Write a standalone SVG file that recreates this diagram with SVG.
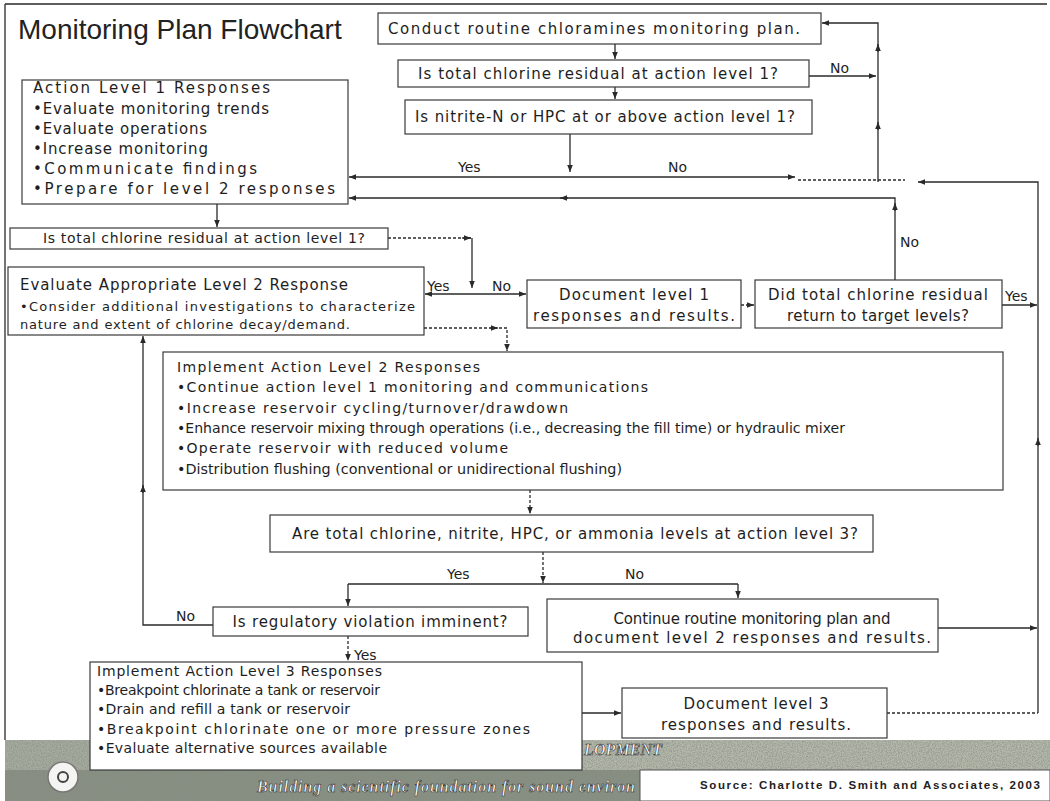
<svg xmlns="http://www.w3.org/2000/svg" width="1050" height="801" viewBox="0 0 1050 801">
<style>
.bx{fill:#fff;stroke:#3a3a3a;stroke-width:1.2}
.t{font-family:"DejaVu Sans",Verdana,sans-serif;fill:#1e1e1e;font-size:15px}
.s14{font-size:14px}
.s13{font-size:13px}
.m{text-anchor:middle}
.c{fill:none;stroke:#2a2a2a;stroke-width:1.3}
.d{stroke-dasharray:3 2}
.lb{font-family:"DejaVu Sans",Verdana,sans-serif;fill:#1e1e1e;font-size:14px}
.ban{font-family:"Liberation Serif","Times New Roman",serif;font-weight:bold;font-style:italic;fill:#fff;stroke:#333;stroke-width:0.6}
</style>
<defs>
<marker id="a" viewBox="0 0 10 10" refX="10" refY="5" markerWidth="7" markerHeight="7" markerUnits="userSpaceOnUse" orient="auto"><path d="M0,1 L10,5 L0,9 z" fill="#2a2a2a"/></marker>
<filter id="nz" x="0" y="0" width="100%" height="100%"><feTurbulence type="fractalNoise" baseFrequency="0.8" numOctaves="2" seed="4"/><feColorMatrix type="matrix" values="0 0 0 0 0.25 0 0 0 0 0.27 0 0 0 0 0.24 1.6 0 0 0 -0.55"/></filter>
</defs>
<rect width="1050" height="801" fill="#fff"/>
<g id="frame" class="c"><path d="M5,4 H1047 M5,4 V740"/></g>
<g id="banner">
<rect x="5" y="740" width="85" height="61" fill="#a6ac9e"/>
<rect x="582" y="740" width="468" height="30" fill="#b4b9ab"/>
<rect x="5" y="770" width="635" height="31" fill="#868e80"/>
<rect x="5" y="740" width="85" height="61" filter="url(#nz)"/>
<rect x="582" y="740" width="468" height="30" filter="url(#nz)"/>
<rect x="5" y="770" width="635" height="31" filter="url(#nz)"/>
<rect x="640" y="770" width="410" height="31" fill="#fff" stroke="#555" stroke-width="1"/>
<circle cx="63" cy="777" r="15" fill="#f4f4f2" stroke="#777" stroke-width="1.5"/>
<circle cx="63" cy="777" r="5" fill="none" stroke="#444" stroke-width="2"/>
<text class="ban" x="584" y="755" font-size="16" textLength="78">LOPMENT</text>
<text class="ban" x="257" y="792" font-size="16" textLength="378">Building a scientific foundation for sound environ</text>
<text x="700" y="789" font-family="Liberation Sans,Arial,sans-serif" font-size="11.5" font-weight="bold" fill="#222" textLength="340">Source: Charlotte D. Smith and Associates, 2003</text>
</g>
<text id="title" x="18" y="39" font-family="Liberation Sans,Arial,sans-serif" font-size="28" fill="#222">Monitoring Plan Flowchart</text>
<g id="connectors">
<path class="c" d="M615,44 V59" marker-end="url(#a)"/>
<path class="c" d="M615,87 V99" marker-end="url(#a)"/>
<path class="c" d="M809,76 H876" marker-end="url(#a)"/>
<path class="c" d="M878,182 V23 H822" marker-end="url(#a)"/>
<path class="c" d="M878,52 V44" marker-end="url(#a)"/>
<path class="c" d="M878,130 V122" marker-end="url(#a)"/>
<path class="c" d="M570,134 V172" marker-end="url(#a)"/>
<path class="c" d="M570,177 H349" marker-end="url(#a)"/>
<path class="c" d="M570,177 H795" marker-end="url(#a)"/>
<path class="c d" d="M798,180 H905"/>
<path class="c d" d="M887,713 H1038"/>
<path class="c" d="M1038,713 V182 H918" marker-end="url(#a)"/>
<path class="c" d="M1038,446 V438" marker-end="url(#a)"/>
<path class="c" d="M895,280 V198 H349" marker-end="url(#a)"/>
<path class="c" d="M568,198 H560" marker-end="url(#a)"/>
<path class="c" d="M895,211 V203" marker-end="url(#a)"/>
<path class="c" d="M217,204 V227" marker-end="url(#a)"/>
<path class="c d" d="M388,238 H472"/>
<path class="c" d="M462,238 H471" marker-end="url(#a)"/>
<path class="c" d="M472,238 V288" marker-end="url(#a)"/>
<path class="c" d="M472,294 H425" marker-end="url(#a)"/>
<path class="c" d="M472,294 H526" marker-end="url(#a)"/>
<path class="c d" d="M741,305 H754" marker-end="url(#a)"/>
<path class="c" d="M1002,305 H1037" marker-end="url(#a)"/>
<path class="c d" d="M424,328 H507 V351" marker-end="url(#a)"/>
<path class="c" d="M490,328 H498" marker-end="url(#a)"/>
<path class="c d" d="M530,490 V514" marker-end="url(#a)"/>
<path class="c d" d="M543,552 V583" marker-end="url(#a)"/>
<path class="c" d="M348,584 H738"/>
<path class="c" d="M348,584 V606" marker-end="url(#a)"/>
<path class="c" d="M738,584 V598" marker-end="url(#a)"/>
<path class="c" d="M213,625 H143 V336" marker-end="url(#a)"/>
<path class="c" d="M143,493 V485" marker-end="url(#a)"/>
<path class="c d" d="M348,636 V661" marker-end="url(#a)"/>
<path class="c" d="M938,628 H1037" marker-end="url(#a)"/>
<path class="c" d="M582,713 H621" marker-end="url(#a)"/>
<text class="lb" x="830" y="73">No</text>
<text class="lb" x="458" y="172">Yes</text>
<text class="lb" x="668" y="172">No</text>
<text class="lb" x="900" y="247">No</text>
<text class="lb" x="427" y="291">Yes</text>
<text class="lb" x="492" y="291">No</text>
<text class="lb" x="1005" y="301">Yes</text>
<text class="lb" x="447" y="579">Yes</text>
<text class="lb" x="625" y="579">No</text>
<text class="lb" x="176" y="621">No</text>
<text class="lb" x="354" y="660">Yes</text>
</g>
<g id="n1"><rect class="bx" x="378" y="13" width="443" height="31"/><text class="t m" x="594" y="34" textLength="412">Conduct routine chloramines monitoring plan.</text></g>
<g id="n2"><rect class="bx" x="398" y="60" width="411" height="27"/><text class="t m" x="598" y="79" textLength="360">Is total chlorine residual at action level 1?</text></g>
<g id="n3"><rect class="bx" x="405" y="100" width="407" height="34"/><text class="t m" x="605" y="122" textLength="380">Is nitrite-N or HPC at or above action level 1?</text></g>
<g id="n4"><rect class="bx" x="22" y="80" width="326" height="124"/>
<text class="t" x="33" y="93" textLength="237">Action Level 1 Responses</text>
<text class="t" x="33" y="114" textLength="236">•Evaluate monitoring trends</text>
<text class="t" x="33" y="134" textLength="174">•Evaluate operations</text>
<text class="t" x="33" y="154" textLength="175">•Increase monitoring</text>
<text class="t" x="33" y="174" textLength="224">•Communicate findings</text>
<text class="t" x="33" y="194" textLength="302">•Prepare for level 2 responses</text></g>
<g id="n5"><rect class="bx" x="10" y="228" width="378" height="21"/><text class="t s14 m" x="204" y="243" textLength="322">Is total chlorine residual at action level 1?</text></g>
<g id="n6"><rect class="bx" x="8" y="267" width="416" height="68"/>
<text class="t" x="20" y="290" textLength="328">Evaluate Appropriate Level 2 Response</text>
<text class="t s13" x="20" y="311" textLength="395">•Consider additional investigations to characterize</text>
<text class="t s13" x="20" y="329" textLength="330">nature and extent of chlorine decay/demand.</text></g>
<g id="n7"><rect class="bx" x="527" y="280" width="214" height="48"/>
<text class="t m" x="634" y="300" textLength="150">Document level 1</text>
<text class="t m" x="634" y="321" textLength="202">responses and results.</text></g>
<g id="n8"><rect class="bx" x="755" y="280" width="247" height="48"/>
<text class="t m" x="878" y="300" textLength="220">Did total chlorine residual</text>
<text class="t m" x="878" y="321" textLength="182">return to target levels?</text></g>
<g id="n9"><rect class="bx" x="163" y="352" width="840" height="138"/>
<text class="t s14" x="177" y="372" textLength="303">Implement Action Level 2 Responses</text>
<text class="t s14" x="177" y="392" textLength="471">•Continue action level 1 monitoring and communications</text>
<text class="t s14" x="177" y="413" textLength="391">•Increase reservoir cycling/turnover/drawdown</text>
<text class="t s14" x="177" y="433" textLength="668" lengthAdjust="spacingAndGlyphs">•Enhance reservoir mixing through operations (i.e., decreasing the fill time) or hydraulic mixer</text>
<text class="t s14" x="177" y="453" textLength="331">•Operate reservoir with reduced volume</text>
<text class="t s14" x="177" y="474" textLength="445" lengthAdjust="spacingAndGlyphs">•Distribution flushing (conventional or unidirectional flushing)</text></g>
<g id="n10"><rect class="bx" x="270" y="515" width="603" height="37"/><text class="t m" x="575" y="539" textLength="566">Are total chlorine, nitrite, HPC, or ammonia levels at action level 3?</text></g>
<g id="n11"><rect class="bx" x="213" y="607" width="315" height="29"/><text class="t m" x="370" y="627" textLength="275">Is regulatory violation imminent?</text></g>
<g id="n12"><rect class="bx" x="547" y="599" width="391" height="53"/>
<text class="t m" x="752" y="624" textLength="277">Continue routine monitoring plan and</text>
<text class="t m" x="752" y="643" textLength="358">document level 2 responses and results.</text></g>
<g id="n13"><rect class="bx" x="90" y="662" width="492" height="108"/>
<text class="t s14" x="97" y="676" textLength="285">Implement Action Level 3 Responses</text>
<text class="t s14" x="97" y="695" textLength="283">•Breakpoint chlorinate a tank or reservoir</text>
<text class="t s14" x="97" y="714" textLength="253">•Drain and refill a tank or reservoir</text>
<text class="t s14" x="97" y="734" textLength="433">•Breakpoint chlorinate one or more pressure zones</text>
<text class="t s14" x="97" y="753" textLength="290">•Evaluate alternative sources available</text></g>
<g id="n14"><rect class="bx" x="622" y="688" width="265" height="50"/>
<text class="t m" x="756" y="709" textLength="145">Document level 3</text>
<text class="t m" x="756" y="730" textLength="190">responses and results.</text></g>
</svg>
